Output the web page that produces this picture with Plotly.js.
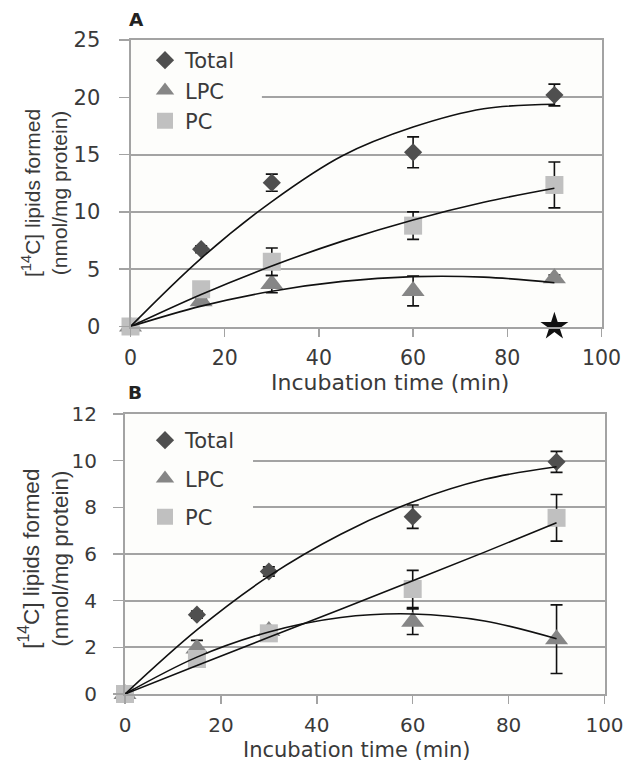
<!DOCTYPE html>
<html>
<head>
<meta charset="utf-8">
<script src="https://cdn.plot.ly/plotly-3.0.1.min.js"></script>
<style>html,body{margin:0;padding:0;background:#fff}#chart{width:624px;height:764px}</style>
</head>
<body>
<div id="chart"></div>
<script>
// ---- data ----
var timeMin = [0, 15, 30, 60, 90];
var seriesNames = ["Total", "LPC", "PC"];

// Panel A
var aTotal = [0, 6.75, 12.55, 15.2, 20.2];
var aTotalErr = [0, 0.3, 0.75, 1.35, 0.95];
var aLPC = [0, 2.2, 3.7, 3.1, 4.2];
var aLPCErr = [0, 0.2, 0.75, 1.3, 0.3];
var aPC = [0, 3.25, 5.65, 8.8, 12.35];
var aPCErr = [0, 0.4, 1.2, 1.2, 2.0];
var aStarX = [90];
var aStarY = [0];

// Panel B
var bTotal = [0, 3.4, 5.25, 7.6, 9.95];
var bTotalErr = [0, 0.15, 0.2, 0.5, 0.45];
var bLPC = [0, 1.95, 2.7, 3.1, 2.35];
var bLPCErr = [0, 0.35, 0.2, 0.55, 1.47];
var bPC = [0, 1.5, 2.6, 4.5, 7.55];
var bPCErr = [0, 0.15, 0.2, 0.8, 1.0];

// Trend curves
var fitX = [0, 15, 30, 45, 60, 75, 90];
var aTotalFit = [0, 5.95, 10.9, 14.9, 17.4, 19.0, 19.4];
var aLPCFit = [0, 1.78, 3.08, 3.94, 4.35, 4.31, 3.82];
var aPCFit = [0, 2.8, 5.28, 7.45, 9.3, 10.84, 12.06];
var bTotalFit = [0, 2.75, 5.05, 6.85, 8.23, 9.2, 9.74];
var bLPCFit = [0, 1.58, 2.66, 3.28, 3.43, 3.13, 2.37];
var bPCFit = [0, 1.22, 2.43, 3.63, 4.85, 6.08, 7.34];

var xTicks = [0, 20, 40, 60, 80, 100];
var aYTicks = [0, 5, 10, 15, 20, 25];
var bYTicks = [0, 2, 4, 6, 8, 10, 12];

// ---- styles ----
var W = 624, H = 764;
var colors = {Total: "#4f4f4f", LPC: "#868686", PC: "#c0c0c0"};
var symbols = {Total: "diamond", LPC: "triangle-up", PC: "square"};
var sizes = {Total: 14, LPC: 20, PC: 18};
var gridColor = "#a3a3a3";
var plotBg = "#fdfdfb";
var txt = "#3a3a3a";
var hfont = "DejaVu Sans, sans-serif";
var vfont = "Liberation Sans, Arial, sans-serif";

function markerTrace(name, y, err, xa, ya, leg) {
  return {
    type: "scatter", mode: "markers", name: name, x: timeMin, y: y,
    xaxis: xa, yaxis: ya, legend: leg, legendgroup: leg + name,
    marker: {symbol: symbols[name], size: sizes[name], color: colors[name], line: {width: 0}},
    error_y: {type: "data", array: err, visible: true, color: "#111", thickness: 1.6, width: 6},
    cliponaxis: false
  };
}
function fitTrace(y, xa, ya) {
  return {
    type: "scatter", mode: "lines", x: fitX, y: y, xaxis: xa, yaxis: ya,
    line: {color: "#111", width: 1.6, shape: "spline", smoothing: 1},
    showlegend: false, hoverinfo: "skip", cliponaxis: false
  };
}

var data = [
  markerTrace("Total", aTotal, aTotalErr, "x", "y", "legend"),
  markerTrace("LPC", aLPC, aLPCErr, "x", "y", "legend"),
  markerTrace("PC", aPC, aPCErr, "x", "y", "legend"),
  fitTrace(aTotalFit, "x", "y"),
  fitTrace(aLPCFit, "x", "y"),
  fitTrace(aPCFit, "x", "y"),
  {type: "scatter", mode: "markers", x: aStarX, y: aStarY, xaxis: "x", yaxis: "y",
   marker: {symbol: "star", size: 21, color: "#111"}, showlegend: false, cliponaxis: false},
  markerTrace("Total", bTotal, bTotalErr, "x2", "y2", "legend2"),
  markerTrace("LPC", bLPC, bLPCErr, "x2", "y2", "legend2"),
  markerTrace("PC", bPC, bPCErr, "x2", "y2", "legend2"),
  fitTrace(bTotalFit, "x2", "y2"),
  fitTrace(bLPCFit, "x2", "y2"),
  fitTrace(bPCFit, "x2", "y2")
];

function xAxis(domain, anchor, fs) {
  return {
    domain: domain, anchor: anchor, range: [0, 100], tickvals: xTicks, ticktext: xTicks.map(String),
    showgrid: false, zeroline: false, showline: true, mirror: true, linecolor: gridColor, linewidth: 2,
    ticks: "outside", ticklen: 8, tickwidth: 1.5, tickcolor: gridColor,
    tickfont: {family: hfont, size: fs, color: txt}, ticklabelstandoff: 4, fixedrange: true
  };
}
function yAxis(domain, anchor, range, ticks, fs, standoff) {
  return {
    domain: domain, anchor: anchor, range: range, tickvals: ticks, ticktext: ticks.map(String),
    showgrid: true, gridcolor: gridColor, gridwidth: 2, zeroline: false,
    showline: true, mirror: true, linecolor: gridColor, linewidth: 2,
    ticks: "outside", ticklen: 10, tickwidth: 1.5, tickcolor: gridColor,
    tickfont: {family: hfont, size: fs, color: txt}, ticklabelstandoff: standoff, fixedrange: true
  };
}

var layout = {
  width: W, height: H, margin: {l: 0, r: 0, t: 0, b: 0},
  paper_bgcolor: "#ffffff", plot_bgcolor: plotBg, showlegend: true,
  xaxis: xAxis([130.5 / W, 601.5 / W], "y", 20.5),
  yaxis: yAxis([(H - 326.5) / H, (H - 40) / H], "x", [0, 25], aYTicks, 21, 14),
  xaxis2: xAxis([125 / W, 604.5 / W], "y2", 20),
  yaxis2: yAxis([(H - 694) / H, (H - 414) / H], "x2", [0, 12], bYTicks, 20, 12),
  legend: {
    x: 145 / W, xanchor: "left", y: (H - 40) / H, yanchor: "top",
    bgcolor: "rgba(0,0,0,0)", borderwidth: 0, tracegroupgap: 0, traceorder: "grouped",
    font: {family: hfont, size: 21, color: txt}, itemwidth: 30
  },
  legend2: {
    x: 145 / W, xanchor: "left", y: (H - 420) / H, yanchor: "top",
    bgcolor: "rgba(0,0,0,0)", borderwidth: 0, tracegroupgap: 8, traceorder: "grouped",
    font: {family: hfont, size: 21, color: txt}, itemwidth: 30
  },
  shapes: [
    {type: "rect", layer: "between", xref: "x", yref: "y", x0: 0, x1: 27.9, y0: 17.5, y1: 22.5,
     fillcolor: plotBg, line: {width: 0}},
    {type: "rect", layer: "between", xref: "x2", yref: "y2", x0: 0, x1: 26.7, y0: 7, y1: 11,
     fillcolor: plotBg, line: {width: 0}}
  ],
  annotations: [
    {text: "<b>A</b>", xref: "paper", yref: "paper", x: 136 / W, y: (H - 19) / H, xanchor: "center", yanchor: "middle",
     showarrow: false, font: {family: hfont, size: 18.5, color: "#222"}},
    {text: "<b>B</b>", xref: "paper", yref: "paper", x: 134.7 / W, y: (H - 392) / H, xanchor: "center", yanchor: "middle",
     showarrow: false, font: {family: hfont, size: 18.5, color: "#222"}},
    {text: "[<sup>14</sup>C] lipids formed<br>(nmol/mg protein)", xref: "paper", yref: "paper",
     x: 44.5 / W, y: (H - 193.5) / H, xanchor: "center", yanchor: "middle", textangle: -90,
     showarrow: false, font: {family: vfont, size: 21, color: txt}},
    {text: "[<sup>14</sup>C] lipids formed<br>(nmol/mg protein)", xref: "paper", yref: "paper",
     x: 44 / W, y: (H - 558.7) / H, xanchor: "center", yanchor: "middle", textangle: -90,
     showarrow: false, font: {family: vfont, size: 22.5, color: txt}},
    {text: "Incubation time (min)", xref: "paper", yref: "paper", x: 390 / W, y: (H - 382) / H,
     xanchor: "center", yanchor: "middle", showarrow: false, font: {family: hfont, size: 22, color: txt}},
    {text: "Incubation time (min)", xref: "paper", yref: "paper", x: 357 / W, y: (H - 750) / H,
     xanchor: "center", yanchor: "middle", showarrow: false, font: {family: hfont, size: 21, color: txt}}
  ]
};

Plotly.newPlot("chart", data, layout, {staticPlot: true, displayModeBar: false});
</script>
</body>
</html>
